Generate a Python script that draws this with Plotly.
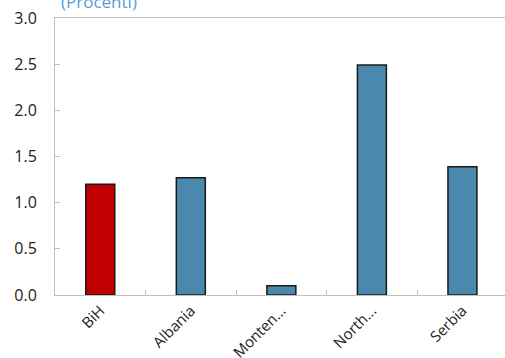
import plotly.graph_objects as go

countries = ["BiH", "Albania", "Monten...", "North...", "Serbia"]
values = [1.20, 1.27, 0.10, 2.49, 1.39]
bar_colors = ["#c00000", "#4a89ad", "#4a89ad", "#4a89ad", "#4a89ad"]
y_ticks = [0.0, 0.5, 1.0, 1.5, 2.0, 2.5, 3.0]

fig = go.Figure(
    go.Bar(
        x=countries,
        y=values,
        marker=dict(color=bar_colors, line=dict(color="#1a1a1a", width=1.5)),
        width=0.32,
    )
)

axis_grey = "#bfbfbf"
fig.update_layout(
    width=505,
    height=358,
    margin=dict(l=55, r=0, t=18, b=63),
    paper_bgcolor="white",
    plot_bgcolor="white",
    showlegend=False,
    font=dict(family="Open Sans, Noto Sans, sans-serif", color="#222222"),
    annotations=[
        dict(
            text="(Procenti)",
            xref="paper",
            yref="paper",
            x=0.0,
            y=1.0,
            xanchor="left",
            yanchor="bottom",
            xshift=4,
            yshift=3,
            showarrow=False,
            font=dict(size=17, color="#5b9bd5"),
        )
    ],
)

fig.update_xaxes(
    type="category",
    range=[-0.5, 4.47],
    automargin=False,
    showline=True,
    linecolor=axis_grey,
    linewidth=1,
    mirror=True,
    ticks="inside",
    tickson="boundaries",
    ticklen=5,
    tickcolor=axis_grey,
    tickangle=-45,
    ticklabelstandoff=0,
    tickfont=dict(size=15, color="#222222"),
    showgrid=False,
)

fig.update_yaxes(
    range=[0, 3.0],
    automargin=False,
    tickvals=y_ticks,
    ticktext=[f"{v:.1f}" for v in y_ticks],
    showline=True,
    linecolor=axis_grey,
    linewidth=1,
    mirror=True,
    ticks="inside",
    ticklen=5,
    tickcolor=axis_grey,
    ticklabelstandoff=14,
    tickfont=dict(size=16, color="#222222"),
    showgrid=False,
    zeroline=False,
)

fig.write_html("out.html")
